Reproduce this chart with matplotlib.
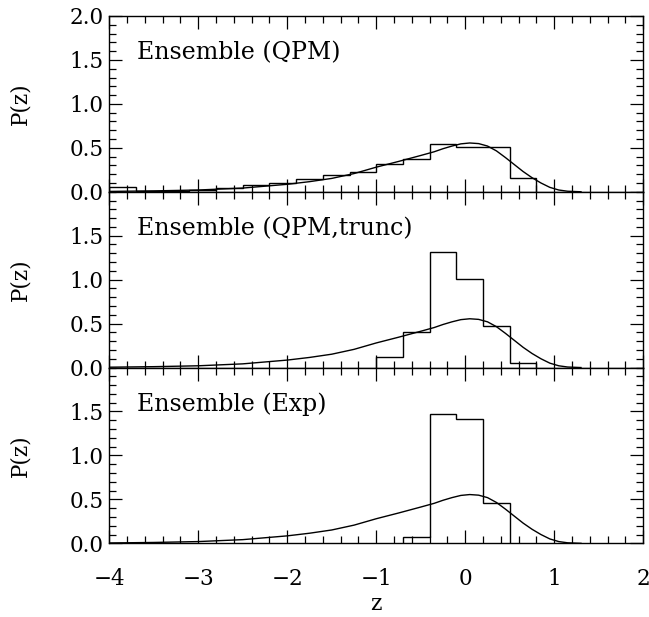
import matplotlib
matplotlib.use("Agg")
import matplotlib.pyplot as plt
from matplotlib.ticker import MultipleLocator

plt.rcParams['font.family'] = ['DejaVu Serif']
plt.rcParams['mathtext.fontset'] = 'dejavuserif'

# ---- data ----
panel_labels = ["Ensemble (QPM)", "Ensemble (QPM,trunc)", "Ensemble (Exp)"]

top_edges = [-4.0, -3.7, -3.4, -3.1, -2.8, -2.5, -2.2, -1.9, -1.6, -1.3,
             -1.0, -0.7, -0.4, -0.1, 0.2, 0.5, 0.8]
top_vals = [0.05, 0.009, 0.011, 0.015, 0.038, 0.076, 0.095, 0.144, 0.193, 0.22,
            0.315, 0.372, 0.538, 0.512, 0.505, 0.152]

mid_edges = [-1.0, -0.7, -0.4, -0.1, 0.2, 0.5, 0.8]
mid_vals = [0.121, 0.40, 1.31, 1.01, 0.473, 0.049]

bot_edges = [-0.7, -0.4, -0.1, 0.2, 0.5]
bot_vals = [0.075, 1.467, 1.42, 0.464]

curve_x = [-4.0, -3.5, -3.0, -2.5, -2.0, -1.75, -1.5, -1.25, -1.0, -0.75,
           -0.5, -0.35, -0.25, -0.15, -0.05, 0.05, 0.15, 0.25, 0.35, 0.45,
           0.55, 0.65, 0.75, 0.85, 0.95, 1.05, 1.15, 1.3]
curve_y = [0.004, 0.01, 0.02, 0.042, 0.085, 0.115, 0.152, 0.207, 0.28, 0.345,
           0.413, 0.455, 0.49, 0.52, 0.545, 0.555, 0.548, 0.52, 0.465, 0.39,
           0.31, 0.23, 0.16, 0.10, 0.05, 0.02, 0.006, 0.0]

x_ticks = [-4, -3, -2, -1, 0, 1, 2]
x_ticklabels = ["\u22124", "\u22123", "\u22122", "\u22121", "0", "1", "2"]
y_ticks_top = [0.0, 0.5, 1.0, 1.5, 2.0]
y_ticks_other = [0.0, 0.5, 1.0, 1.5]

hists = [(top_edges, top_vals), (mid_edges, mid_vals), (bot_edges, bot_vals)]

# ---- figure ----
fig = plt.figure(figsize=(6.49, 6.17), dpi=100)
left, right, bottom, top = 0.1684, 0.9912, 0.1194, 0.9741
h = (top - bottom) / 3.0

for i, (edges, vals) in enumerate(hists):
    ax = fig.add_axes([left, top - (i + 1) * h, right - left, h])
    ax.stairs(vals, edges, color='black', linewidth=1.0, baseline=0)
    ax.plot(curve_x, curve_y, color='black', linewidth=1.0)
    ax.set_xlim(-4, 2)
    ax.set_ylim(0, 2)
    ax.xaxis.set_major_locator(MultipleLocator(1))
    ax.xaxis.set_minor_locator(MultipleLocator(0.2))
    ax.yaxis.set_minor_locator(MultipleLocator(0.1))
    ax.tick_params(which='both', direction='in', top=True, right=True,
                   labelsize=15.5, width=0.9)
    ax.tick_params(which='major', length=9.5)
    ax.tick_params(which='minor', length=4.8)
    ax.tick_params(axis='y', pad=4)
    ax.tick_params(axis='x', pad=18)
    for sp in ax.spines.values():
        sp.set_linewidth(1.0)
    if i == 0:
        ax.set_yticks(y_ticks_top)
        ax.set_yticklabels(["%.1f" % v for v in y_ticks_top])
    else:
        ax.set_yticks(y_ticks_other)
        ax.set_yticklabels(["%.1f" % v for v in y_ticks_other])
    ax.set_ylabel("P(z)", fontsize=15.5)
    ax.yaxis.set_label_coords(-0.145, 0.5)
    ax.text(0.052, 0.79, panel_labels[i], transform=ax.transAxes,
            fontsize=17, ha='left', va='center')
    if i < 2:
        ax.tick_params(axis='x', labelbottom=False)
    else:
        ax.set_xticks(x_ticks)
        ax.set_xticklabels(x_ticklabels)
        ax.set_xlabel("z", fontsize=15.5, labelpad=2)

fig.savefig("out.png", dpi=100)
